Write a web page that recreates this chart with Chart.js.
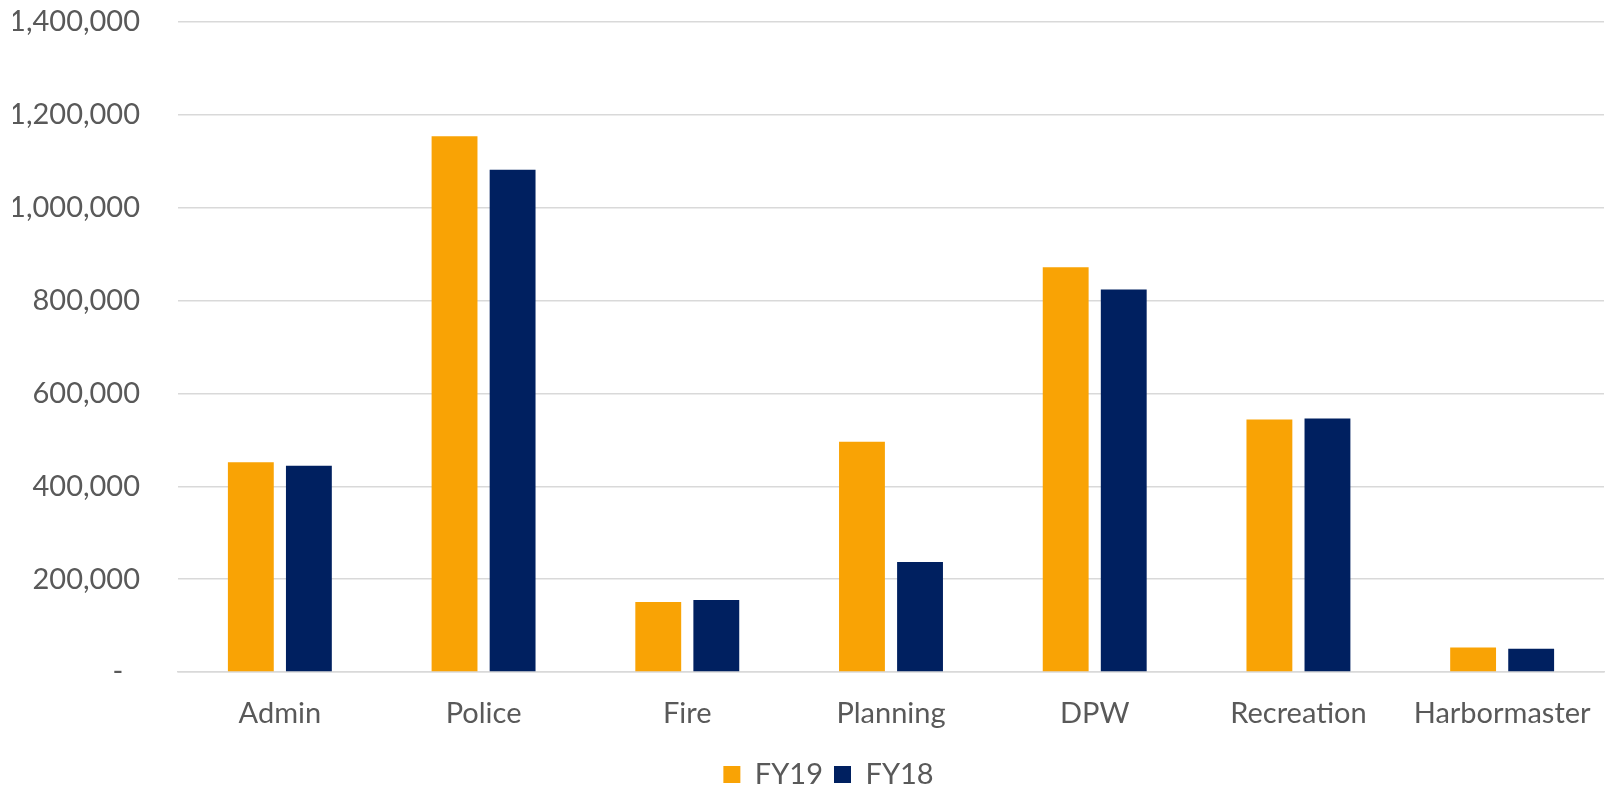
<!DOCTYPE html>
<html>
<head>
<meta charset="utf-8">
<script src="https://cdn.jsdelivr.net/npm/chart.js@4.4.1/dist/chart.umd.min.js"></script>
<style>
  html, body { margin: 0; padding: 0; background: #ffffff; }
  #wrap { width: 1606px; height: 787px; position: relative; }
</style>
</head>
<body>
<div id="wrap"><canvas id="c" width="1606" height="787"></canvas></div>
<script>
const categories = ["Admin", "Police", "Fire", "Planning", "DPW", "Recreation", "Harbormaster"];
const seriesNames = ["FY19", "FY18"];
const fy19 = [452000, 1154000, 151000, 496000, 872000, 544000, 53000];
const fy18 = [444000, 1082000, 155000, 237000, 824000, 546000, 50000];
const yTicks = [0, 200000, 400000, 600000, 800000, 1000000, 1200000, 1400000];

const labelColor = '#595959';
const fontFamily = 'Lato, "Open Sans", "DejaVu Sans", sans-serif';

const legendShift = {
  id: 'legendShift',
  afterLayout(chart) {
    if (chart.legend) { chart.legend.left += 20; chart.legend.right += 20; }
  }
};

new Chart(document.getElementById('c'), {
  type: 'bar',
  plugins: [legendShift],
  data: {
    labels: categories,
    datasets: [
      { label: seriesNames[0], data: fy19, backgroundColor: '#F9A305', borderWidth: 0,
        categoryPercentage: 0.57, barPercentage: 0.79 },
      { label: seriesNames[1], data: fy18, backgroundColor: '#002060', borderWidth: 0,
        categoryPercentage: 0.57, barPercentage: 0.79 }
    ]
  },
  options: {
    responsive: false,
    animation: false,
    devicePixelRatio: 1,
    layout: { padding: { left: 13, right: 2, top: 22, bottom: -12 } },
    plugins: {
      tooltip: { enabled: false },
      legend: {
        position: 'bottom',
        labels: {
          color: labelColor,
          font: { family: fontFamily, size: 29 },
          boxWidth: 17,
          boxHeight: 17,
          padding: 11
        }
      }
    },
    scales: {
      x: {
        grid: { display: false, drawTicks: false },
        border: { display: true, color: '#d9d9d9', width: 1.5 },
        ticks: {
          color: labelColor,
          font: { family: fontFamily, size: 29 },
          padding: 24,
          maxRotation: 0,
          autoSkip: false
        },
        afterFit: (axis) => { axis.height = 77; axis.paddingLeft = 0; axis.paddingRight = 0; }
      },
      y: {
        min: yTicks[0],
        max: yTicks[yTicks.length - 1],
        afterBuildTicks: (axis) => { axis.ticks = yTicks.map(v => ({ value: v })); },
        grid: { color: '#d9d9d9', lineWidth: 1.5, drawTicks: false },
        border: { display: false },
        ticks: {
          color: labelColor,
          font: { family: fontFamily, size: 29 },
          padding: 38,
          callback: (v) => v === 0 ? '-\u2007' : v.toLocaleString('en-US')
        },
        afterFit: (axis) => { axis.width = 165; axis.paddingTop = 0; axis.paddingBottom = 0; }
      }
    }
  }
});
</script>
</body>
</html>
